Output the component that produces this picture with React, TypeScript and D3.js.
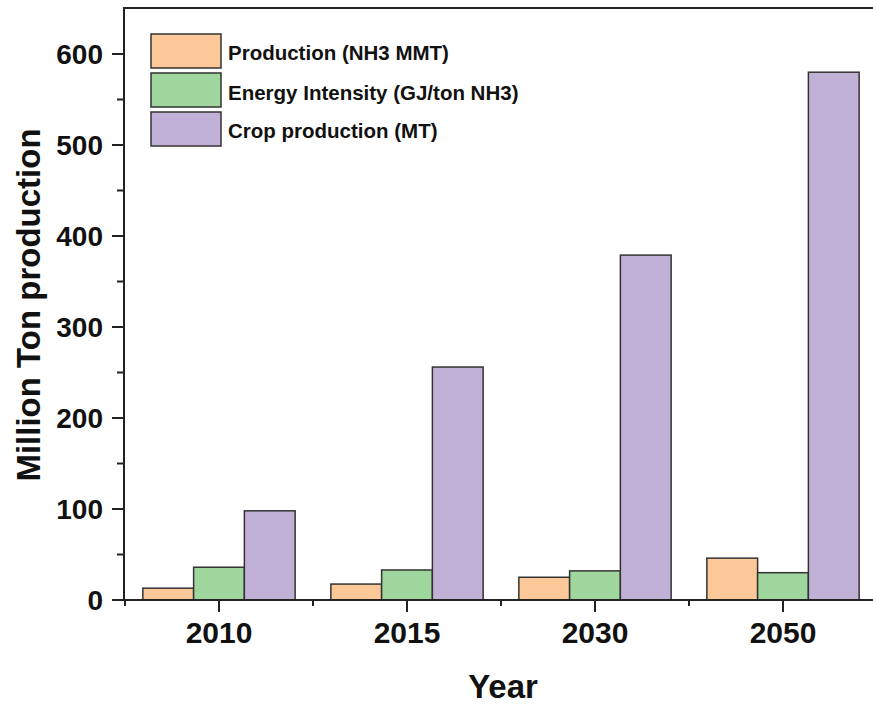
import React from "react";
import * as d3 from "d3";

const years = ["2010", "2015", "2030", "2050"];
const production = [13, 17.5, 25, 46];
const energyIntensity = [36, 33, 32, 30];
const cropProduction = [98, 256, 379, 580];
const seriesNames = ["Production (NH3 MMT)", "Energy Intensity (GJ/ton NH3)", "Crop production (MT)"];
const seriesColors = ["#FDC898", "#9FD69D", "#C1B1D7"];
const yTicks = [0, 100, 200, 300, 400, 500, 600];
const yMinorTicks = [50, 150, 250, 350, 450, 550];

const W = 873;
const H = 708;
const FONT = "'Liberation Sans', Arial, sans-serif";

export default function App() {
  const series = [production, energyIntensity, cropProduction];
  const x = d3.scaleLinear().domain([0.5, 4.5]).range([125, 877]);
  const y = d3.scaleLinear().domain([0, 650]).range([600, 8.5]);
  const barW = x(0.27) - x(0);
  const left = 124;
  const bottom = 600;
  const stroke = "#222";

  return (
    <svg width={W} height={H} style={{ position: "absolute", left: 0, top: 0, background: "#fff" }} fontFamily={FONT}>
      {/* bars */}
      {series.map((vals, si) =>
        vals.map((v, i) => {
          const cx = x(i + 1) + (si - 1) * barW;
          return (
            <rect
              key={`${si}-${i}`}
              x={cx - barW / 2}
              y={y(v)}
              width={barW}
              height={y(0) - y(v)}
              fill={seriesColors[si]}
              stroke="#333"
              strokeWidth={1.5}
            />
          );
        })
      )}
      {/* axes lines */}
      <line x1={left} x2={W} y1={bottom} y2={bottom} stroke={stroke} strokeWidth={2} />
      <line x1={left} x2={W} y1={8} y2={8} stroke={stroke} strokeWidth={2} />
      <line x1={left} x2={left} y1={7} y2={bottom + 1} stroke={stroke} strokeWidth={2} />
      {/* y ticks */}
      {yTicks.map((t) => (
        <g key={t}>
          <line x1={left - 12} x2={left} y1={y(t)} y2={y(t)} stroke={stroke} strokeWidth={2} />
          <text x={103} y={y(t)} dy="0.35em" textAnchor="end" fontSize={28} fontWeight="bold" fill="#111">
            {t}
          </text>
        </g>
      ))}
      {yMinorTicks.map((t) => (
        <line key={t} x1={left - 7} x2={left} y1={y(t)} y2={y(t)} stroke={stroke} strokeWidth={2} />
      ))}
      {/* x ticks */}
      {years.map((yr, i) => (
        <g key={yr}>
          <line x1={x(i + 1)} x2={x(i + 1)} y1={bottom} y2={bottom + 12} stroke={stroke} strokeWidth={2} />
          <text x={x(i + 1)} y={643} textAnchor="middle" fontSize={30} fontWeight="bold" fill="#111">
            {yr}
          </text>
        </g>
      ))}
      {[0, 1, 2, 3, 4].map((k) => (
        <line key={k} x1={x(k + 0.5)} x2={x(k + 0.5)} y1={bottom} y2={bottom + 6} stroke={stroke} strokeWidth={2} />
      ))}
      {/* axis titles */}
      <text x={503} y={698} textAnchor="middle" fontSize={33} fontWeight="bold" fill="#111">
        Year
      </text>
      <text
        transform={`translate(40, 305) rotate(-90)`}
        textAnchor="middle"
        fontSize={33}
        fontWeight="bold"
        fill="#111"
      >
        Million Ton production
      </text>
      {/* legend */}
      {seriesNames.map((name, i) => {
        const tops = [34, 73, 112];
        const baselines = [60, 100, 138];
        return (
          <g key={name}>
            <rect x={151} y={tops[i]} width={70} height={34} fill={seriesColors[i]} stroke="#333" strokeWidth={1.5} />
            <text x={228} y={baselines[i]} fontSize={20.5} fontWeight="bold" fill="#111">
              {name}
            </text>
          </g>
        );
      })}
    </svg>
  );
}
